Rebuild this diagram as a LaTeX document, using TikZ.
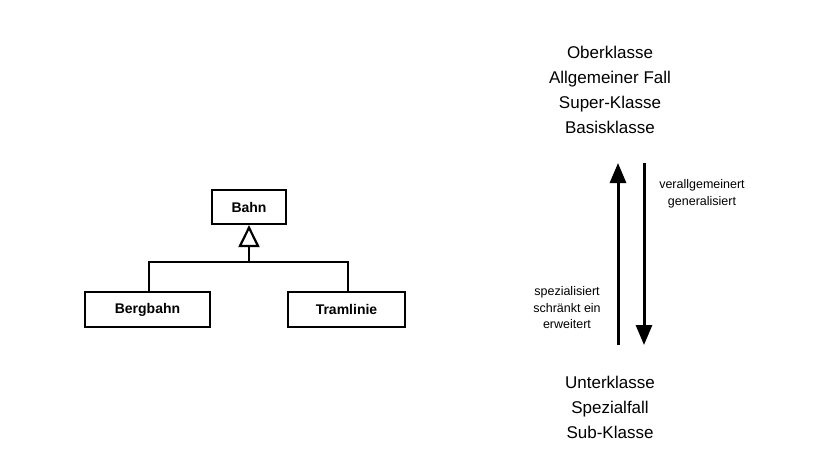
\documentclass[tikz,border=0pt]{standalone}
\usepackage{fontspec}
\setmainfont{Liberation Sans}
\usetikzlibrary{arrows.meta}
\begin{document}
\begin{tikzpicture}[x=1pt,y=-1pt,
  cls/.style={draw,line width=2.2pt,inner sep=0pt,font=\fontsize{14}{16}\selectfont\bfseries},
  ln/.style={line width=2.2pt},
  big/.style={align=center,font=\fontsize{17}{25}\selectfont},
  small/.style={align=center,font=\fontsize{12.5}{16.5}\selectfont},
  arr/.style={line width=3pt,-{Triangle[length=20pt,width=16pt]}}]
\useasboundingbox (0,0) rectangle (830,456);
\node[cls,minimum width=74pt,minimum height=34pt] (bahn) at (249,207) {Bahn};
\node[cls,minimum width=125pt,minimum height=35pt] (berg) at (147.5,309.5) {Bergbahn};
\node[cls,minimum width=117pt,minimum height=35pt] (tram) at (346.5,309.5) {Tramlinie};
\coordinate (j) at (249,262);
\draw[ln] (berg.north -| 149,0) -- (149,262) -- (348,262) -- (tram.north -| 348,0);
\draw[ln,-{Triangle[open,length=22pt,width=21pt,line width=2.2pt]}] (j) -- (bahn.south);
\node[big] (top) at (610,90) {Oberklasse\\Allgemeiner Fall\\Super-Klasse\\Basisklasse};
\node[big] (bot) at (610,407) {Unterklasse\\Spezialfall\\Sub-Klasse};
\coordinate (ub) at (618,345); \coordinate (ut) at (618,163);
\coordinate (dt) at (644,163); \coordinate (db) at (644,345);
\draw[arr] (ub) -- (ut);
\draw[arr] (dt) -- (db);
\node[small] (gen) at (702,194) {verallgemeinert\\generalisiert};
\node[small] (spec) at (567,308) {spezialisiert\\schränkt ein\\erweitert};
\end{tikzpicture}
\end{document}
